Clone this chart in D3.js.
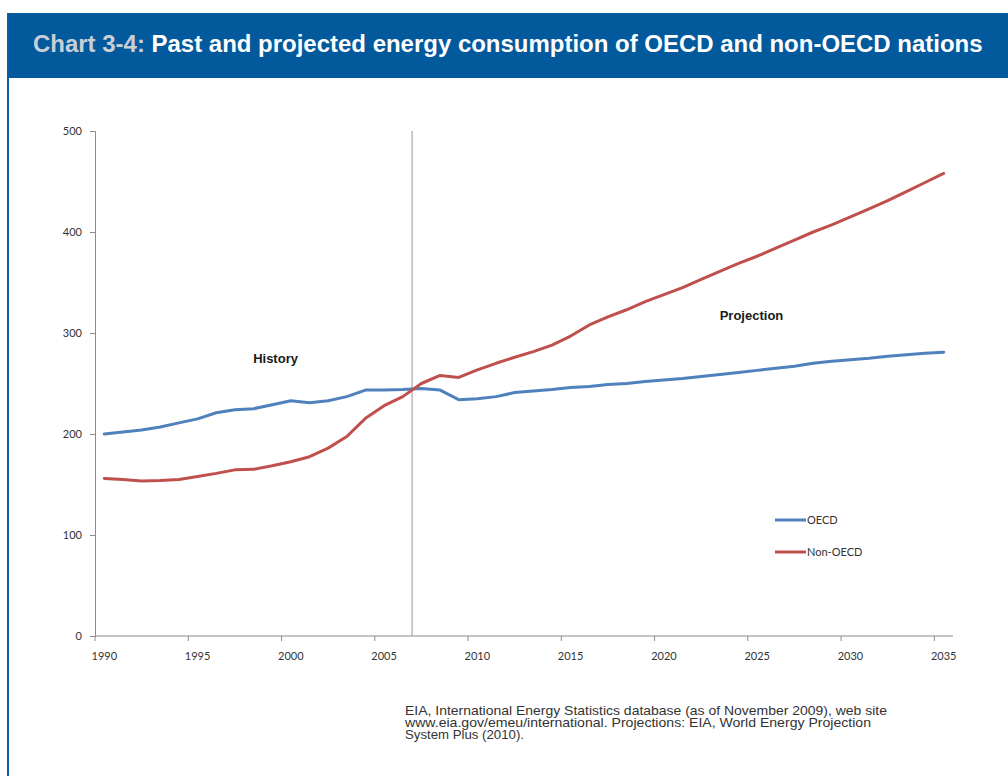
<!DOCTYPE html>
<html>
<head>
<meta charset="utf-8">
<script src="https://cdn.jsdelivr.net/npm/d3@7"></script>
<style>
  html, body { margin: 0; padding: 0; background: #fff; }
  svg { display: block; }
</style>
</head>
<body>
<svg id="chart" width="1008" height="776"></svg>
<script>
// ---- Data ----
const years = d3.range(1990, 2036);
const oecd = [200, 202, 204, 207, 211, 215, 221, 224, 225, 229, 233, 231, 233, 237, 243.5, 243.5, 244,
              245, 243.5, 234, 235, 237, 241, 242.5, 244, 246, 247, 249, 250, 252, 253.5, 255, 257, 259,
              261, 263, 265, 267, 270, 272, 273.5, 275, 277, 278.5, 280, 281];
const nonOecd = [156, 155, 153.5, 154, 155, 158, 161, 164.5, 165, 168.5, 172.5, 177.5, 186, 197.5, 215.5, 228, 237,
                 250, 258, 256, 263.5, 270, 276, 281.5, 288, 297, 308, 316, 323, 331, 338, 345, 353, 361,
                 369, 376, 384, 392, 400, 407, 415, 423, 431, 440, 449, 458];
const yTicks = [0, 100, 200, 300, 400, 500];
const xTickYears = [1990, 1995, 2000, 2005, 2010, 2015, 2020, 2025, 2030, 2035];
const seriesNames = ["OECD", "Non-OECD"];
const seriesColors = ["#4F81BD", "#C0504D"];
const titlePrefix = "Chart 3-4:";
const titleMain = " Past and projected energy consumption of OECD and non-OECD nations";
const sourceLines = [
  "EIA, International Energy Statistics database (as of November 2009), web site",
  "www.eia.gov/emeu/international. Projections: EIA, World Energy Projection",
  "System Plus (2010)."
];
const lastHistoryYear = 2006;

// ---- Drawing ----
const svg = d3.select("#chart");

// Frame: header + left border
svg.append("rect").attr("x", 8).attr("y", 13).attr("width", 1000).attr("height", 65).attr("fill", "#02599C");
svg.append("rect").attr("x", 7).attr("y", 13).attr("width", 2).attr("height", 763).attr("fill", "#0a5ea6");

const title = svg.append("text")
  .attr("x", 33).attr("y", 52)
  .attr("font-family", "Liberation Sans, Arial, sans-serif")
  .attr("font-weight", "bold").attr("font-size", 20);
title.append("tspan").attr("fill", "#c9cfd6").text(titlePrefix);
title.append("tspan").attr("fill", "#ffffff").text(titleMain);
const tw = title.node().getComputedTextLength();
title.attr("font-size", 20 * 950 / tw);

const x = d3.scaleBand().domain(years).range([95, 953]).padding(0);
const y = d3.scaleLinear().domain([0, 500]).range([636, 131]);
const cx = yr => x(yr) + x.bandwidth() / 2;

const axisColor = "#8c8c8c";
const labelFont = "Lato, 'Open Sans', sans-serif";

// Y axis
const yAxis = svg.append("g").attr("transform", "translate(95,0)")
  .call(d3.axisLeft(y).tickValues(yTicks).tickSize(5).tickPadding(8));
yAxis.select(".domain").attr("stroke", axisColor);
yAxis.selectAll(".tick line").attr("stroke", axisColor);
yAxis.selectAll("text").attr("font-family", labelFont).attr("font-size", 11).attr("fill", "#333");

// X axis: ticks at category boundaries, labels at category centres
const xg = svg.append("g").attr("transform", "translate(0,636)");
xg.append("line").attr("x1", 95).attr("x2", 953).attr("y1", 0).attr("y2", 0).attr("stroke", axisColor);
xg.selectAll("line.tk").data(xTickYears).join("line").attr("class", "tk")
  .attr("x1", d => x(d)).attr("x2", d => x(d)).attr("y1", 0).attr("y2", 5).attr("stroke", axisColor);
xg.selectAll("text").data(xTickYears).join("text")
  .attr("x", d => cx(d)).attr("y", 24).attr("text-anchor", "middle")
  .attr("font-family", labelFont).attr("font-size", 11).attr("fill", "#333")
  .text(d => d);

// Divider between history and projection
svg.append("line")
  .attr("x1", x(lastHistoryYear + 1)).attr("x2", x(lastHistoryYear + 1))
  .attr("y1", y(500)).attr("y2", y(0))
  .attr("stroke", "#a6a6a6").attr("stroke-width", 1.2);

// Lines
const line = d3.line().x((d, i) => cx(years[i])).y(d => y(d));
[oecd, nonOecd].forEach((s, i) => {
  svg.append("path").datum(s).attr("d", line)
    .attr("fill", "none").attr("stroke", seriesColors[i])
    .attr("stroke-width", 3).attr("stroke-linejoin", "round").attr("stroke-linecap", "round");
});

// Annotations
svg.append("text").attr("x", cx(1998) + 22).attr("y", 363).attr("text-anchor", "middle")
  .attr("font-family", "Liberation Sans, Arial, sans-serif").attr("font-weight", "bold")
  .attr("font-size", 13).attr("fill", "#1a1a1a").text("History");
svg.append("text").attr("x", cx(2024) + 13).attr("y", 320).attr("text-anchor", "middle")
  .attr("font-family", "Liberation Sans, Arial, sans-serif").attr("font-weight", "bold")
  .attr("font-size", 13).attr("fill", "#1a1a1a").text("Projection");

// Legend
const legY = [520, 552];
seriesNames.forEach((n, i) => {
  svg.append("line").attr("x1", 775).attr("x2", 806).attr("y1", legY[i]).attr("y2", legY[i])
    .attr("stroke", seriesColors[i]).attr("stroke-width", 3);
  svg.append("text").attr("x", 807).attr("y", legY[i] + 4)
    .attr("font-family", labelFont).attr("font-size", 11).attr("fill", "#333").text(n);
});

// Source (three lines, each fitted to the width seen in the reference)
const srcWidths = [482, 466, 119];
sourceLines.forEach((l, i) => {
  svg.append("text").attr("x", 405).attr("y", 714.5 + i * 12.3)
    .attr("font-family", "Liberation Sans, Arial, sans-serif")
    .attr("font-size", 12.2).attr("fill", "#333")
    .attr("textLength", srcWidths[i]).attr("lengthAdjust", "spacingAndGlyphs")
    .text(l);
});
</script>
</body>
</html>
